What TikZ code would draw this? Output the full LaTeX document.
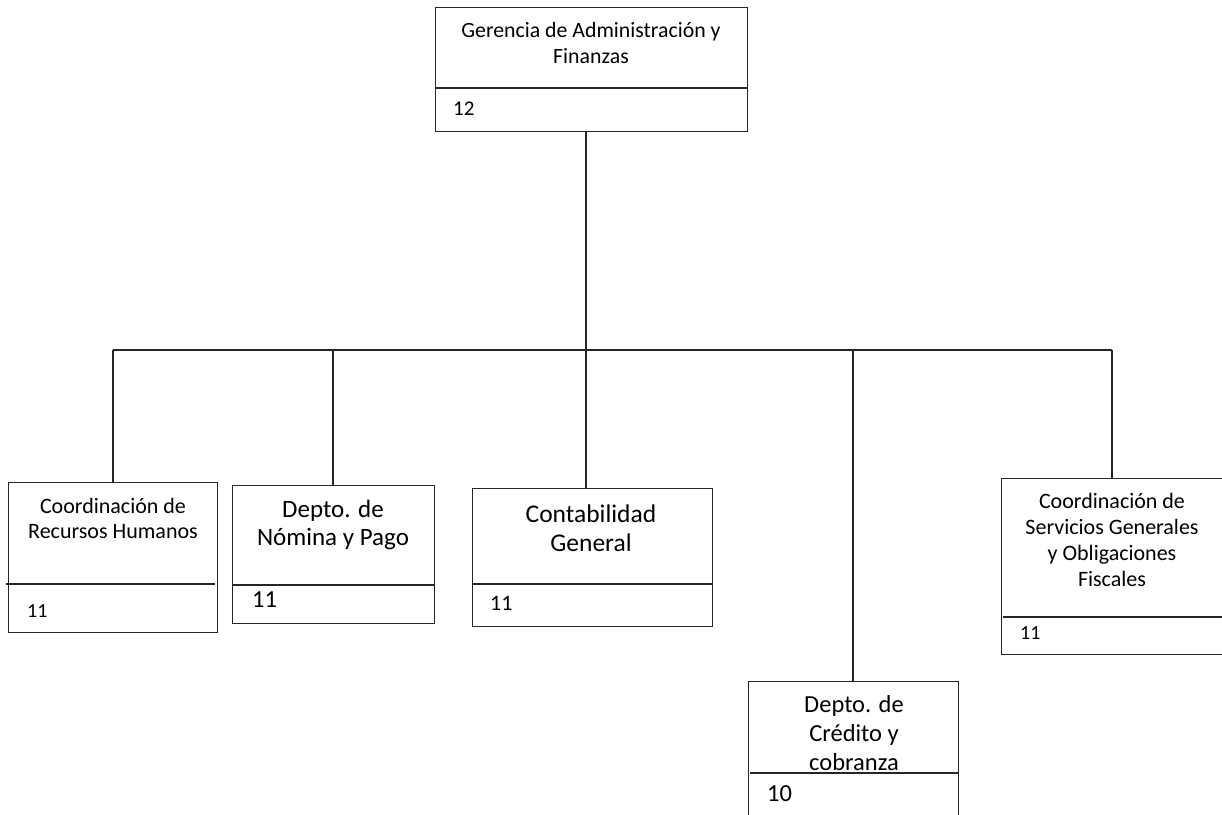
\documentclass[tikz,border=0pt]{standalone}
\usepackage{fontspec}
\setmainfont{Carlito}
\begin{document}
\begin{tikzpicture}[x=1pt,y=-1pt,
  box/.style={draw=black!85,line width=1.1pt,rectangle,inner sep=0pt,anchor=north west},
  conn/.style={draw=black!85,line width=1.1pt},
  divline/.style={draw=black!85,line width=1.3pt},
  small/.style={font=\fontsize{22}{26}\selectfont,align=center,inner sep=0pt,anchor=base},
  large/.style={font=\fontsize{25}{28}\selectfont,align=center,inner sep=0pt,anchor=base},
  numtxt/.style={inner sep=0pt,anchor=base west}]
\useasboundingbox (0,0) rectangle (1222,814);
\clip (0,0) rectangle (1222,814);
% boxes
\node[box,minimum width=312pt,minimum height=124pt] (top) at (435,7) {};
\node[box,minimum width=209pt,minimum height=150pt] (b1) at (8,482) {};
\node[box,minimum width=202pt,minimum height=138pt] (b2) at (232,485) {};
\node[box,minimum width=240pt,minimum height=138pt] (b3) at (472,488) {};
\node[box,minimum width=210pt,minimum height=150pt] (b4) at (748,681) {};
\node[box,minimum width=240pt,minimum height=176pt] (b5) at (1001,478) {};
% dividers
\coordinate (d0a) at (435,88); \coordinate (d0b) at (747,88);
\coordinate (d1a) at (6,584); \coordinate (d1b) at (215,584);
\coordinate (d2a) at (232,585); \coordinate (d2b) at (434,585);
\coordinate (d3a) at (472,584); \coordinate (d3b) at (712,584);
\coordinate (d4a) at (750,773); \coordinate (d4b) at (958,773);
\coordinate (d5a) at (1003,617); \coordinate (d5b) at (1230,617);
\draw[divline] (d0a) -- (d0b);
\draw[divline] (d1a) -- (d1b);
\draw[divline] (d2a) -- (d2b);
\draw[divline] (d3a) -- (d3b);
\draw[divline] (d4a) -- (d4b);
\draw[divline] (d5a) -- (d5b);
% texts (anchor=base is the last line's baseline)
\node[small,font=\fontsize{21.8}{26}\selectfont] (t0) at (591,63) {Gerencia de Administración y\\Finanzas};
\node[numtxt,font=\fontsize{21}{25}\selectfont] (n0) at (453,115) {12};
\node[small,font=\fontsize{22}{25}\selectfont] (t1) at (113,538) {Coordinación de\\Recursos Humanos};
\node[numtxt,font=\fontsize{20}{24}\selectfont] (n1) at (27,617) {11};
\node[large] (t2) at (333,545) {Depto. de\\Nómina y Pago};
\node[large,font=\fontsize{25.5}{29}\selectfont] (t3) at (591,551) {Contabilidad\\General};
\node[numtxt,font=\fontsize{24.5}{28}\selectfont] (n2) at (252,607) {11};
\node[numtxt,font=\fontsize{22}{26}\selectfont] (n3) at (490,610) {11};
\node[large,font=\fontsize{24.5}{29}\selectfont] (t4) at (854,770) {Depto. de\\Crédito y\\cobranza};
\node[numtxt,font=\fontsize{24.5}{28}\selectfont] (n4) at (767,801) {10};
\node[small,font=\fontsize{22}{26}\selectfont] (t5) at (1112,586) {Coordinación de\\Servicios Generales\\y Obligaciones\\Fiscales};
\node[numtxt,font=\fontsize{20}{24}\selectfont] (n5) at (1020,639) {11};
% connectors
\coordinate (hub) at (586,350);
\coordinate (hl) at (113,350);
\coordinate (hr) at (1112,350);
\draw[conn] (top.south -| hub) -- (hub);
\draw[conn] (hl) -- (hr);
\draw[conn] (hl) -- (hl |- b1.north);
\draw[conn] (333,350) -- (333,485);
\draw[conn] (hub) -- (hub |- b3.north);
\draw[conn] (853,350) -- (853,681);
\draw[conn] (hr) -- (hr |- b5.north);
\end{tikzpicture}
\end{document}
